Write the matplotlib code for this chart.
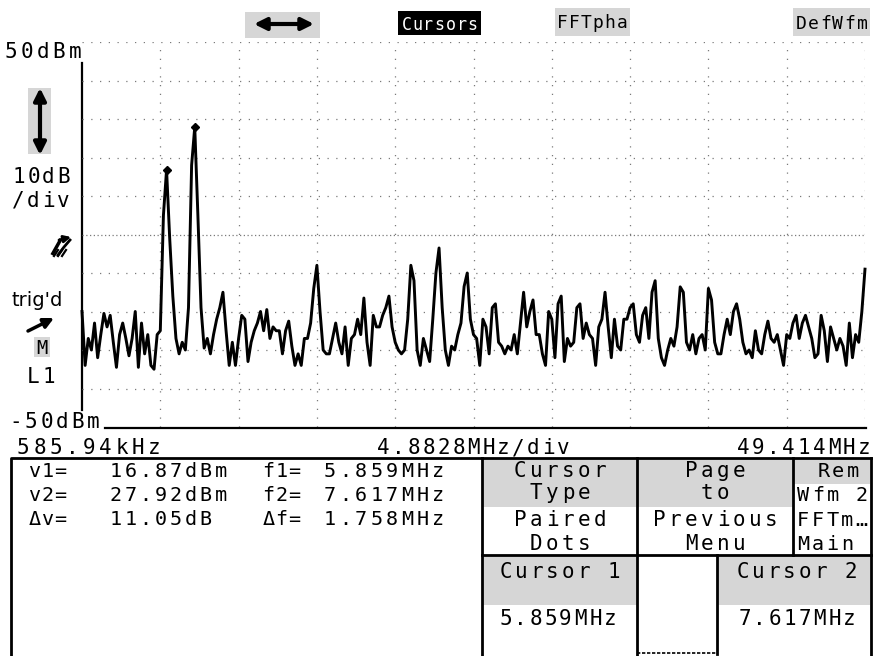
import numpy as np
import matplotlib.pyplot as plt
from matplotlib.patches import Rectangle

# FFT magnitude trace, dBm, one reading every 2 bins (195.31 kHz)
f_start = 0.58594      # MHz
f_step = 0.19531       # MHz
f_div = 4.8828         # MHz per division
trace_div1 = [-20, -34, -27, -30, -23, -32, -26, -20.5, -24, -21, -28, -34.5, -26,
              -23, -27, -31.5, -27, -20, -34.5, -23, -31, -26, -34, -35, -26]
trace_div2 = [-25, 5, 16.87, -1, -16, -27, -31, -28, -30, -19, 18, 27.92, 5,
              -19, -29.5, -27, -31, -26, -22, -19, -15, -25, -34, -28, -34]
trace_div3 = [-27, -21, -22, -33, -28, -25, -23, -20, -25, -19.5, -27, -24, -25,
              -25, -31, -25, -22.5, -29, -34, -31, -34, -27, -27, -23, -14]
trace_div4 = [-8, -20, -30, -31, -31, -27, -23, -28, -31, -24, -34, -27, -26,
              -22, -26, -16.5, -28, -34, -21, -24, -24, -21, -19, -16, -24]
trace_div5 = [-28, -30, -31, -30, -22, -8, -12, -30, -34, -27, -30, -33, -22,
              -10, -3.5, -19, -30, -34, -29, -30, -26, -23, -13.5, -10, -22]
trace_div6 = [-26, -27, -34, -22, -24, -31, -19, -18, -28, -29, -31, -29, -30,
              -26, -31, -23, -15, -24, -20, -17, -26, -26, -31, -34, -20]
trace_div7 = [-22, -32, -18, -16, -33, -27, -29, -28, -19, -18, -27, -23, -26,
              -27, -34, -24, -22, -15, -24, -32, -22, -29, -30, -22, -22]
trace_div8 = [-19, -18, -26, -28, -21, -19, -27, -15, -12, -27, -32, -34, -30,
              -27, -29, -24, -13.6, -15, -28, -30, -26, -31, -27, -26, -30]
trace_div9 = [-14, -17, -28, -31, -31, -26, -22, -26, -20, -18, -22, -28, -31,
              -30, -32, -25, -30, -31, -26, -22.5, -27, -28, -26, -30, -34]
trace_div10 = [-26, -27, -23, -21, -27, -23, -21, -24, -27, -32, -31, -21, -25,
               -33, -24, -27, -30, -27, -29, -34, -23, -32, -26, -28, -20, -9]

cursor_freq = [5.859, 7.617]
cursor_level = [16.87, 27.92]

trace = np.array(trace_div1 + trace_div2 + trace_div3 + trace_div4 + trace_div5 +
                 trace_div6 + trace_div7 + trace_div8 + trace_div9 + trace_div10)
freqs = f_start + f_step * np.arange(len(trace))

MONO = 'DejaVu Sans Mono'
STIPPLE = '#d6d6d6'

fig = plt.figure(figsize=(8.77, 6.56), dpi=100)

# screen layer in pixel units (y down)
ui = fig.add_axes([0, 0, 1, 1])
ui.set_xlim(0, 877)
ui.set_ylim(656, 0)
ui.axis('off')


def lcd(x, y, s, pitch=15, size=14, color='black', ha='left'):
    # fixed pitch text like the scope's character generator
    if ha == 'center':
        x = x - pitch * len(s) / 2
    elif ha == 'right':
        x = x - pitch * len(s)
    for i, ch in enumerate(s):
        ui.text(x + pitch * (i + 0.5), y, ch, ha='center', va='baseline',
                family=MONO, fontsize=size, color=color)


def box(x0, y0, x1, y1, fc='none', ec='none', lw=0):
    ui.add_patch(Rectangle((x0, y0), x1 - x0, y1 - y0, facecolor=fc,
                           edgecolor=ec, linewidth=lw))


# header softkeys
box(245, 12, 320, 38, fc=STIPPLE)
ui.annotate('', xy=(314, 24), xytext=(254, 24),
            arrowprops=dict(arrowstyle='<|-|>', color='black', lw=3,
                            mutation_scale=18, shrinkA=0, shrinkB=0))
box(398, 11, 481, 35, fc='black')
lcd(439.5, 30, 'Cursors', pitch=11, size=12, color='white', ha='center')
box(555, 8, 630, 36, fc=STIPPLE)
lcd(557, 28, 'FFTpha', pitch=11.8, size=13)
box(793, 8, 870, 36, fc=STIPPLE)
lcd(795, 29, 'DefWfm', pitch=12.2, size=13)

# left annotations
lcd(3, 58, '50dBm', pitch=16, size=15)
box(28, 88, 51, 154, fc=STIPPLE)
ui.annotate('', xy=(40, 88), xytext=(40, 155),
            arrowprops=dict(arrowstyle='<|-|>', color='black', lw=3,
                            mutation_scale=18, shrinkA=0, shrinkB=0))
lcd(11, 183, '10dB', pitch=15, size=15)
lcd(11, 207, '/div', pitch=15, size=15)
# ground reference marker
ui.plot([52, 61], [255, 239], color='black', lw=2.5, solid_capstyle='butt')
ui.plot([58, 64, 70], [255, 247, 240], color='black', lw=2)
for tx in (54, 58, 62):
    ui.plot([tx, tx + 4], [256, 250], color='black', lw=1.6)
ui.annotate('', xy=(71, 237), xytext=(59, 240),
            arrowprops=dict(arrowstyle='-|>', color='black', lw=2,
                            mutation_scale=10, shrinkA=0, shrinkB=0))
ui.text(12, 306, "trig'd", ha='left', va='baseline', family='DejaVu Sans',
        fontsize=14)
ui.annotate('', xy=(54, 318), xytext=(28, 331),
            arrowprops=dict(arrowstyle='-|>', color='black', lw=2.5,
                            mutation_scale=15, shrinkA=0, shrinkB=0))
box(34, 337, 50, 357, fc=STIPPLE)
lcd(42, 354, 'M', pitch=14, size=13.5, ha='center')
lcd(26, 383, 'L1', pitch=15, size=15)
lcd(8, 428, '-50dBm', pitch=15.5, size=15)

# graticule frame
ui.plot([82, 82], [63, 410], color='black', lw=1.6)
ui.plot([105, 866], [428, 428], color='black', lw=1.6)

# spectrum area
ax = fig.add_axes([82 / 877, 1 - 427 / 656, (865 - 82) / 877, 385 / 656])
ax.patch.set_alpha(0)
ax.set_xlim(f_start, f_start + 10 * f_div)
ax.set_ylim(-50, 50)
for spine in ax.spines.values():
    spine.set_visible(False)
ax.set_xticks([])
ax.set_yticks([])
for i in range(1, 11):
    ax.axvline(f_start + i * f_div, color='#7a7a7a', lw=0.9, ls=(0, (1, 6)))
for lev in range(-40, 60, 10):
    ax.axhline(lev, color='#7a7a7a', lw=0.9,
               ls=(0, (1, 2)) if lev == 0 else (0, (1, 6)))
ax.plot(freqs, trace, color='black', lw=2.1, clip_on=False)
ax.plot(cursor_freq, cursor_level, 'D', color='black', ms=4.5, clip_on=False)

# horizontal scale readout
lcd(15, 454, '585.94kHz', pitch=16.4, size=15)
lcd(376, 454, '4.8828MHz/div', pitch=15, size=15)
lcd(872, 454, '49.414MHz', pitch=15.2, size=15, ha='right')

# cursor readout panel
ui.plot([11, 11, 482], [656, 458, 458], color='black', lw=2)
rows = [('v1=', '16.87dBm', 'f1=', '5.859MHz'),
        ('v2=', '27.92dBm', 'f2=', '7.617MHz'),
        ('\u0394v=', '11.05dB', '\u0394f=', '1.758MHz')]
for (a, b, c, d), base in zip(rows, [477, 501, 525]):
    lcd(28, base, a, pitch=13, size=14.5)
    lcd(108, base, b, pitch=15, size=14.5)
    lcd(262, base, c, pitch=13, size=14.5)
    lcd(322, base, d, pitch=15.5, size=14.5)

# softkey menu
box(483, 459, 637, 507, fc=STIPPLE)
box(637, 459, 793, 507, fc=STIPPLE)
box(793, 459, 870, 484, fc=STIPPLE)
box(483, 556, 637, 605, fc=STIPPLE)
box(717, 556, 870, 605, fc=STIPPLE)
ui.plot([482, 871], [458, 458], color='black', lw=2)
ui.plot([482, 482], [458, 656], color='black', lw=2)
ui.plot([871, 871], [458, 656], color='black', lw=2)
ui.plot([482, 871], [555, 555], color='black', lw=2)
ui.plot([637, 637], [458, 656], color='black', lw=2)
ui.plot([793, 793], [458, 555], color='black', lw=2)
ui.plot([717, 717], [555, 654], color='black', lw=2)
ui.plot([637, 717], [653, 653], color='black', lw=1.2, ls=(0, (2, 1)))

lcd(560, 477, 'Cursor', pitch=16, size=15, ha='center')
lcd(560, 499, 'Type', pitch=16, size=15, ha='center')
lcd(560, 526, 'Paired', pitch=16, size=15, ha='center')
lcd(560, 550, 'Dots', pitch=16, size=15, ha='center')
lcd(715, 477, 'Page', pitch=16, size=15, ha='center')
lcd(715, 499, 'to', pitch=16, size=15, ha='center')
lcd(715, 526, 'Previous', pitch=16, size=15, ha='center')
lcd(715, 550, 'Menu', pitch=16, size=15, ha='center')
lcd(838, 477, 'Rem', pitch=14.5, size=14.5, ha='center')
lcd(796, 501, 'Wfm 2', pitch=14.6, size=14.5)
lcd(796, 526, 'FFTm\u2026', pitch=14.6, size=14.5)
lcd(796, 550, 'Main', pitch=14.6, size=14.5)
lcd(560, 578, 'Cursor 1', pitch=15.5, size=15, ha='center')
lcd(558, 625, '5.859MHz', pitch=15, size=15, ha='center')
lcd(797, 578, 'Cursor 2', pitch=15.5, size=15, ha='center')
lcd(797, 625, '7.617MHz', pitch=15, size=15, ha='center')

fig.savefig('out.png', dpi=100)
